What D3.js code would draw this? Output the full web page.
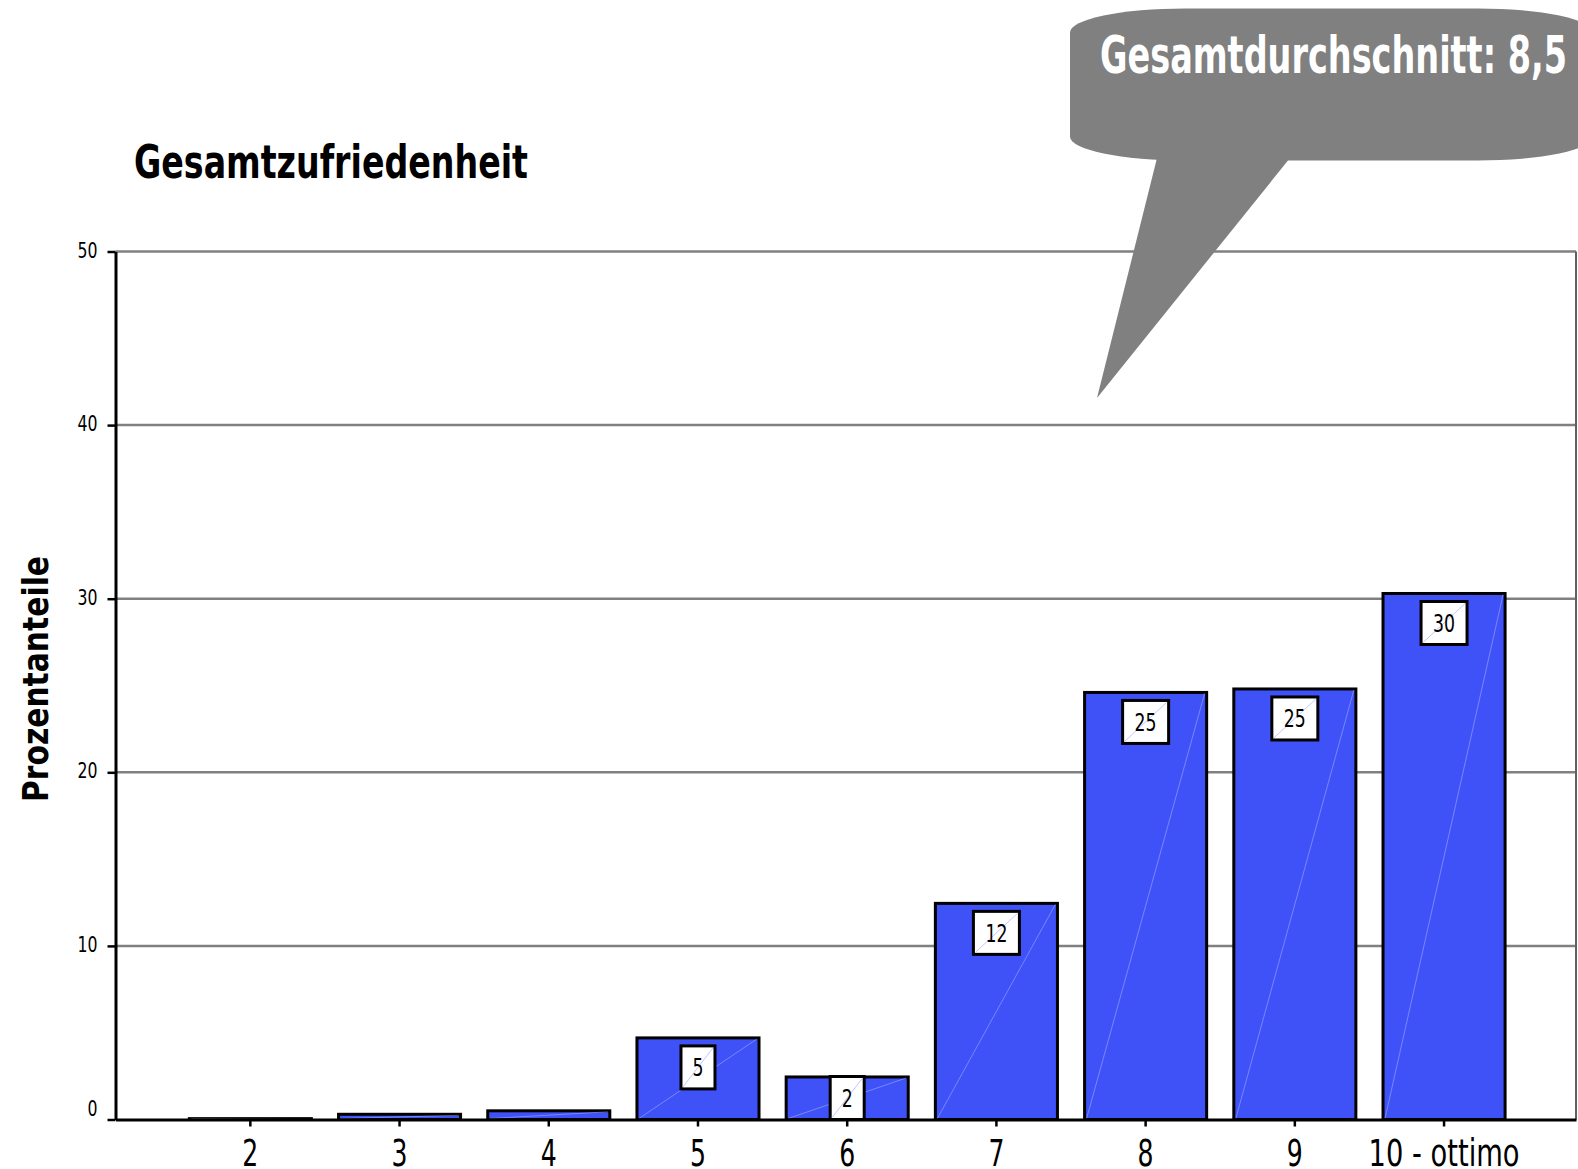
<!DOCTYPE html>
<html><head><meta charset="utf-8">
<script src="https://cdn.jsdelivr.net/npm/d3@7"></script>
<style>html,body{margin:0;padding:0;background:#fff;overflow:hidden}</style>
</head><body>
<svg id="chart" width="1578" height="1169"></svg>
<script>
const categories = ["2","3","4","5","6","7","8","9","10 - ottimo"];
const values = [0.05, 0.3, 0.5, 4.7, 2.45, 12.45, 24.6, 24.8, 30.3];
const valueLabels = ["","","","5","2","12","25","25","30"];
const yTicks = [0,10,20,30,40,50];
const gridTicks = [10,20,30,40,50];
const titleText = "Gesamtzufriedenheit";
const yAxisTitle = "Prozentanteile";
const calloutText = "Gesamtdurchschnitt: 8,5";

const FONT = "'Liberation Sans Narrow','DejaVu Sans Condensed','Arial Narrow',sans-serif";
const svg = d3.select("#chart");
const W = 1578, H = 1169;
svg.append("rect").attr("width", W).attr("height", H).attr("fill", "#fff");

const pLeft = 115.5, pRight = 1576, pTop = 251.5, pBottom = 1119.5;
const y = d3.scaleLinear().domain([0, 50]).range([pBottom, pTop]);
const x = d3.scaleBand().domain(categories).range([pLeft, pRight])
  .paddingInner(0.182).paddingOuter(0.485).align(0.51);

// gridlines
svg.append("g").selectAll("line").data(gridTicks).join("line")
  .attr("x1", pLeft).attr("x2", pRight)
  .attr("y1", d => y(d)).attr("y2", d => y(d))
  .attr("stroke", "#808080").attr("stroke-width", 2.5);
// right border
svg.append("line").attr("x1", pRight).attr("x2", pRight)
  .attr("y1", y(50)).attr("y2", y(0))
  .attr("stroke", "#606060").attr("stroke-width", 2);

// bars
const bars = svg.append("g");
bars.selectAll("rect").data(values).join("rect")
  .attr("x", (d, i) => x(categories[i]))
  .attr("width", x.bandwidth())
  .attr("y", d => y(d))
  .attr("height", d => y(0) - y(d))
  .attr("fill", "#3f52f8")
  .attr("stroke", "#000").attr("stroke-width", 3);
bars.selectAll("line").data(values).join("line")
  .attr("x1", (d, i) => x(categories[i]) + 2)
  .attr("y1", y(0) - 1)
  .attr("x2", (d, i) => x(categories[i]) + x.bandwidth() - 2)
  .attr("y2", d => y(d) + 1)
  .attr("stroke", "rgba(255,255,255,0.3)").attr("stroke-width", 1);

// value label boxes
const labG = svg.append("g");
values.forEach((v, i) => {
  const t = valueLabels[i];
  if (!t) return;
  const cx = x(categories[i]) + x.bandwidth() / 2;
  const bw = t.length === 1 ? 34 : 46, bh = 43;
  const by = Math.min(y(v) + 8, y(0) - bh);
  labG.append("rect").attr("x", cx - bw / 2).attr("y", by)
    .attr("width", bw).attr("height", bh)
    .attr("fill", "#fff").attr("stroke", "#000").attr("stroke-width", 3);
  labG.append("line").attr("x1", cx - bw / 2 + 2).attr("y1", by + bh - 2)
    .attr("x2", cx + bw / 2 - 2).attr("y2", by + 2)
    .attr("stroke", "#c3c8ff").attr("stroke-width", 1);
  labG.append("text").attr("x", cx).attr("y", by + bh / 2 + 9)
    .attr("text-anchor", "middle")
    .attr("font-family", FONT).attr("font-size", 25).attr("fill", "#000")
    .attr("textLength", t.length * 11).attr("lengthAdjust", "spacingAndGlyphs")
    .text(t);
});

// y axis
const yAxis = svg.append("g").attr("transform", `translate(${pLeft},0)`)
  .call(d3.axisLeft(y).tickValues(yTicks).tickSize(8).tickSizeOuter(0).tickPadding(10));
yAxis.select(".domain").attr("stroke", "#000").attr("stroke-width", 3);
yAxis.selectAll(".tick line").attr("stroke", "#000").attr("stroke-width", 2.5);
yAxis.selectAll(".tick text")
  .attr("font-family", FONT).attr("font-size", 22).attr("fill", "#000")
  .attr("textLength", d => String(d).length * 10).attr("lengthAdjust", "spacingAndGlyphs")
  .attr("dy", d => d === 0 ? "-0.2em" : "0.25em");

// x axis
const xAxis = svg.append("g").attr("transform", `translate(0,${y(0)})`)
  .call(d3.axisBottom(x).tickSize(7).tickSizeOuter(0));
xAxis.select(".domain").attr("stroke", "#000").attr("stroke-width", 3);
xAxis.selectAll(".tick line").attr("stroke", "#000").attr("stroke-width", 2.5);
xAxis.selectAll(".tick text")
  .attr("font-family", FONT).attr("font-size", 37).attr("fill", "#000")
  .attr("textLength", d => d.length === 1 ? 16 : 151).attr("lengthAdjust", "spacingAndGlyphs")
  .attr("y", 46).attr("dy", 0);

// title
svg.append("text").attr("x", 134).attr("y", 178)
  .attr("font-family", FONT).attr("font-weight", "bold").attr("font-size", 47)
  .attr("textLength", 394).attr("lengthAdjust", "spacingAndGlyphs")
  .attr("fill", "#000").text(titleText);

// y axis title
svg.append("text").attr("transform", "translate(48,679) rotate(-90)")
  .attr("text-anchor", "middle")
  .attr("font-family", FONT).attr("font-weight", "bold").attr("font-size", 35)
  .attr("textLength", 246).attr("lengthAdjust", "spacingAndGlyphs")
  .attr("fill", "#000").text(yAxisTitle);

// callout
const cg = svg.append("g");
cg.append("rect").attr("x", 1070).attr("y", 8.5).attr("width", 523).attr("height", 152)
  .attr("rx", 115).attr("ry", 24).attr("fill", "#808080");
cg.append("path").attr("d", "M1157,158 L1290,158 L1097,398 Z").attr("fill", "#808080");
cg.append("text").attr("x", 1100).attr("y", 73)
  .attr("font-family", FONT).attr("font-weight", "bold").attr("font-size", 52)
  .attr("textLength", 467).attr("lengthAdjust", "spacingAndGlyphs")
  .attr("fill", "#fff").text(calloutText);
</script>
</body></html>
